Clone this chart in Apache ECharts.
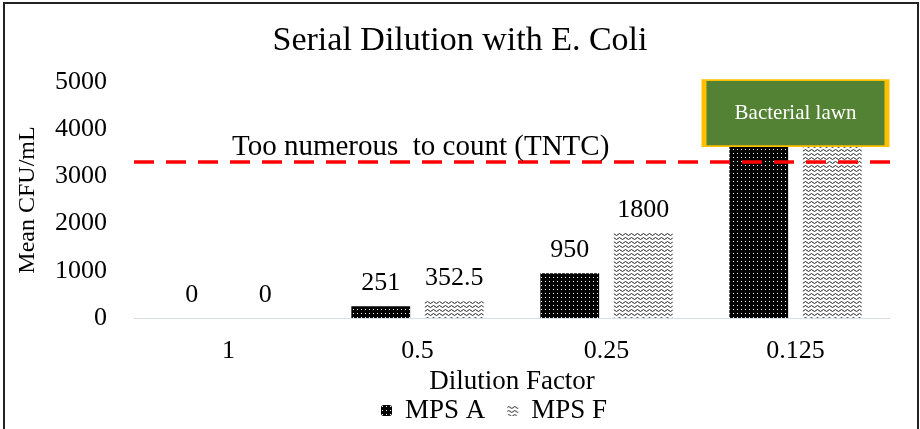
<!DOCTYPE html>
<html>
<head>
<meta charset="utf-8">
<script src="https://cdn.jsdelivr.net/npm/echarts@6/dist/echarts.min.js"></script>
<style>
  html, body { margin: 0; padding: 0; background: #fff; }
  #chart { width: 920px; height: 429px; }
</style>
</head>
<body>
<div id="chart"></div>
<script>
// data
const dilution = ['1', '0.5', '0.25', '0.125']
const mpsA = [0, 251, 950, 4000]
const mpsF = [0, 352.5, 1800, 4000]
const showLabel = [true, true, true, false]
const tntcLevel = 3300
const lawnLevel = 4340
const yTicks = [0, 1000, 2000, 3000, 4000, 5000]

const serif = '"Liberation Serif", "Times New Roman", serif'

// black with white dots (MPS A)
function dotPattern() {
  const c = document.createElement('canvas')
  c.width = 4
  c.height = 4
  const ctx = c.getContext('2d')
  ctx.fillStyle = '#000'
  ctx.fillRect(0, 0, 4, 4)
  ctx.fillStyle = '#fff'
  ctx.fillRect(1, 1, 1, 1)
  return c
}

// white with small black waves (MPS F)
function wavePattern() {
  const c = document.createElement('canvas')
  c.width = 6
  c.height = 4
  const ctx = c.getContext('2d')
  ctx.fillStyle = '#fff'
  ctx.fillRect(0, 0, 6, 4)
  ctx.strokeStyle = '#222'
  ctx.lineWidth = 1
  ctx.beginPath()
  ctx.moveTo(0, 2.5)
  ctx.quadraticCurveTo(1.5, 0.5, 3, 2.5)
  ctx.quadraticCurveTo(4.5, 4.5, 6, 2.5)
  ctx.stroke()
  return c
}

const labelData = (vals) => vals.map((v, i) => ({
  value: v,
  label: { show: showLabel[i] },
}))

const barLabel = {
  position: 'top',
  distance: 10,
  fontFamily: serif,
  fontSize: 26,
  color: '#000',
}

const chart = echarts.init(document.getElementById('chart'))
chart.setOption({
  animation: false,
  textStyle: { fontFamily: serif },
  title: {
    text: 'Serial Dilution with E. Coli',
    left: 'center',
    top: 19,
    textStyle: { fontFamily: serif, fontSize: 34, fontWeight: 'normal', color: '#000' },
  },
  graphic: [{
    type: 'rect',
    shape: { x: 4, y: 3, width: 914, height: 440 },
    style: { fill: 'none', stroke: '#222', lineWidth: 2 },
    silent: true,
  }],
  legend: {
    bottom: 0,
    left: 376,
    itemWidth: 11,
    itemHeight: 11,
    itemGap: 22,
    textStyle: { fontFamily: serif, fontSize: 27, color: '#000', padding: [0, 0, 0, 8] },
    data: ['MPS A', 'MPS F'],
  },
  grid: { left: 134, right: 30, top: 82, bottom: 111 },
  xAxis: {
    type: 'category',
    data: dilution,
    name: 'Dilution Factor',
    nameLocation: 'middle',
    nameGap: 48,
    nameTextStyle: { fontFamily: serif, fontSize: 27, color: '#000' },
    axisLine: { lineStyle: { color: '#d9dde6', width: 1 } },
    axisTick: { show: false },
    axisLabel: { fontFamily: serif, fontSize: 26, color: '#000', margin: 20 },
  },
  yAxis: {
    type: 'value',
    min: yTicks[0],
    max: yTicks[yTicks.length - 1],
    interval: 1000,
    name: 'Mean CFU/mL',
    nameLocation: 'middle',
    nameGap: 94,
    nameTextStyle: { fontFamily: serif, fontSize: 24, color: '#000' },
    splitLine: { show: false },
    axisLine: { show: false },
    axisTick: { show: false },
    axisLabel: { fontFamily: serif, fontSize: 26, color: '#000', margin: 27, formatter: v => String(v) },
  },
  series: [{
    name: 'MPS A',
    type: 'bar',
    barGap: '25%',
    barCategoryGap: '30%',
    data: labelData(mpsA),
    itemStyle: { color: { image: dotPattern(), repeat: 'repeat' } },
    label: barLabel,
  }, {
    name: 'MPS F',
    type: 'bar',
    data: labelData(mpsF),
    itemStyle: { color: { image: wavePattern(), repeat: 'repeat' } },
    label: barLabel,
  }, {
    // holder for the TNTC line and the lawn box, centred on the categories
    name: 'notes',
    type: 'scatter',
    data: [],
    z: 10,
    markLine: {
      silent: true,
      symbol: 'none',
      lineStyle: { color: '#ff0000', width: 3.5, type: [20, 12] },
      label: {
        show: true,
        position: 'insideStartTop',
        distance: [98, 0],
        formatter: 'Too numerous  to count (TNTC)',
        fontFamily: serif,
        fontSize: 29,
        color: '#000',
      },
      data: [{ yAxis: tntcLevel }],
    },
    markPoint: {
      silent: true,
      symbol: 'rect',
      symbolSize: [183, 66],
      itemStyle: { color: '#548235', borderColor: '#ffc000', borderWidth: 3 },
      label: {
        show: true,
        formatter: 'Bacterial lawn',
        fontFamily: serif,
        fontSize: 21,
        color: '#fff',
      },
      data: [{ coord: ['0.125', lawnLevel] }],
    },
  }],
})
</script>
</body>
</html>
